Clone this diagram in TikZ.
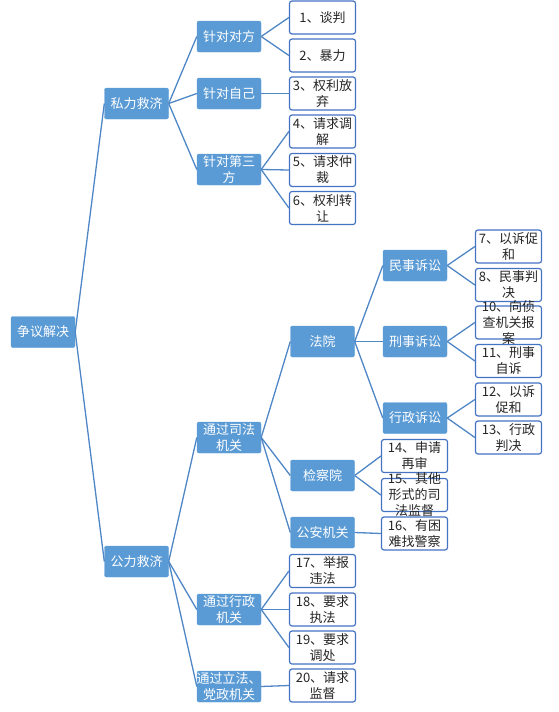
\documentclass[tikz,border=0pt]{standalone}
\usepackage{fontspec}
\newfontfamily\cjk{Noto Sans CJK SC}
\definecolor{boxblue}{HTML}{5B9BD5}
\definecolor{leafblue}{HTML}{4472C4}
\definecolor{lineblue}{HTML}{4F86C6}
\tikzset{
  bluebox/.style={fill=boxblue, draw=boxblue, rounded corners=2pt, minimum width=64pt, minimum height=31pt, inner sep=0pt},
  bluetext/.style={text=white, font=\cjk\fontsize{13}{16}\selectfont, align=center, inner sep=0pt},
  leafbox/.style={fill=white, draw=leafblue, line width=1.2pt, rounded corners=2.5pt, minimum width=66pt, minimum height=33pt, inner sep=0pt},
  leaftext/.style={text=black!85, font=\cjk\fontsize{13}{16}\selectfont, align=center, inner sep=0pt},
  conn/.style={draw=lineblue, line width=1.3pt}
}
\newcommand\bnode[4]{\node[bluebox] (#1) at (#2,#3) {}; \node[bluetext] (#1-t) at (#1.center) {#4};}
\newcommand\lnode[4]{\node[leafbox] (#1) at (#2,#3) {}; \node[leaftext] (#1-t) at (#1.center) {#4};}
\begin{document}
\begin{tikzpicture}[x=1pt,y=-1pt]
\useasboundingbox (0,0) rectangle (559,712);
% blue nodes
\bnode{root}{43}{332}{争议解决}
\bnode{si}{136.5}{103.5}{私力救济}
\bnode{gong}{136.5}{561.5}{公力救济}
\bnode{dui}{229}{36.5}{针对对方}
\bnode{zi}{229}{93.5}{针对自己}
\bnode{san}{229}{169.5}{针对第三\\方}
\bnode{sifa}{229}{437.5}{通过司法\\机关}
\bnode{xz}{229}{609.5}{通过行政\\机关}
\bnode{lf}{229}{686.5}{通过立法、\\党政机关}
\bnode{fy}{322.5}{341.5}{法院}
\bnode{jc}{322.5}{475.5}{检察院}
\bnode{ga}{322.5}{532.5}{公安机关}
\bnode{ms}{415}{265.5}{民事诉讼}
\bnode{xs}{415}{341.5}{刑事诉讼}
\bnode{xzss}{415}{418}{行政诉讼}
% leaf nodes
\lnode{l1}{322.5}{17.5}{1、谈判}
\lnode{l2}{322.5}{55.5}{2、暴力}
\lnode{l3}{322.5}{93.5}{3、权利放\\弃}
\lnode{l4}{322.5}{131.5}{4、请求调\\解}
\lnode{l5}{322.5}{170}{5、请求仲\\裁}
\lnode{l6}{322.5}{208}{6、权利转\\让}
\lnode{l7}{508.5}{246.5}{7、以诉促\\和}
\lnode{l8}{508.5}{285}{8、民事判\\决}
\lnode{l10}{508.5}{322.5}{10、向侦\\查机关报\\案}
\lnode{l11}{508.5}{361}{11、刑事\\自诉}
\lnode{l12}{508.5}{399.5}{12、以诉\\促和}
\lnode{l13}{508.5}{437.5}{13、行政\\判决}
\lnode{l14}{414.5}{456}{14、申请\\再审}
\lnode{l15}{414.5}{495}{15、其他\\形式的司\\法监督}
\lnode{l16}{414.5}{533.5}{16、有困\\难找警察}
\lnode{l17}{322.5}{571}{17、举报\\违法}
\lnode{l18}{322.5}{609.5}{18、要求\\执法}
\lnode{l19}{322.5}{647.5}{19、要求\\调处}
\lnode{l20}{322.5}{685.5}{20、请求\\监督}
% connectors
\foreach \a/\b in {root/si, root/gong, si/dui, si/zi, si/san, gong/sifa, gong/xz, gong/lf,
  dui/l1, dui/l2, zi/l3, san/l4, san/l5, san/l6,
  sifa/fy, sifa/jc, sifa/ga, fy/ms, fy/xs, fy/xzss,
  ms/l7, ms/l8, xs/l10, xs/l11, xzss/l12, xzss/l13,
  jc/l14, jc/l15, ga/l16, xz/l17, xz/l18, xz/l19, lf/l20}
  \draw[conn] (\a.east) -- (\b.west);
\end{tikzpicture}
\end{document}
